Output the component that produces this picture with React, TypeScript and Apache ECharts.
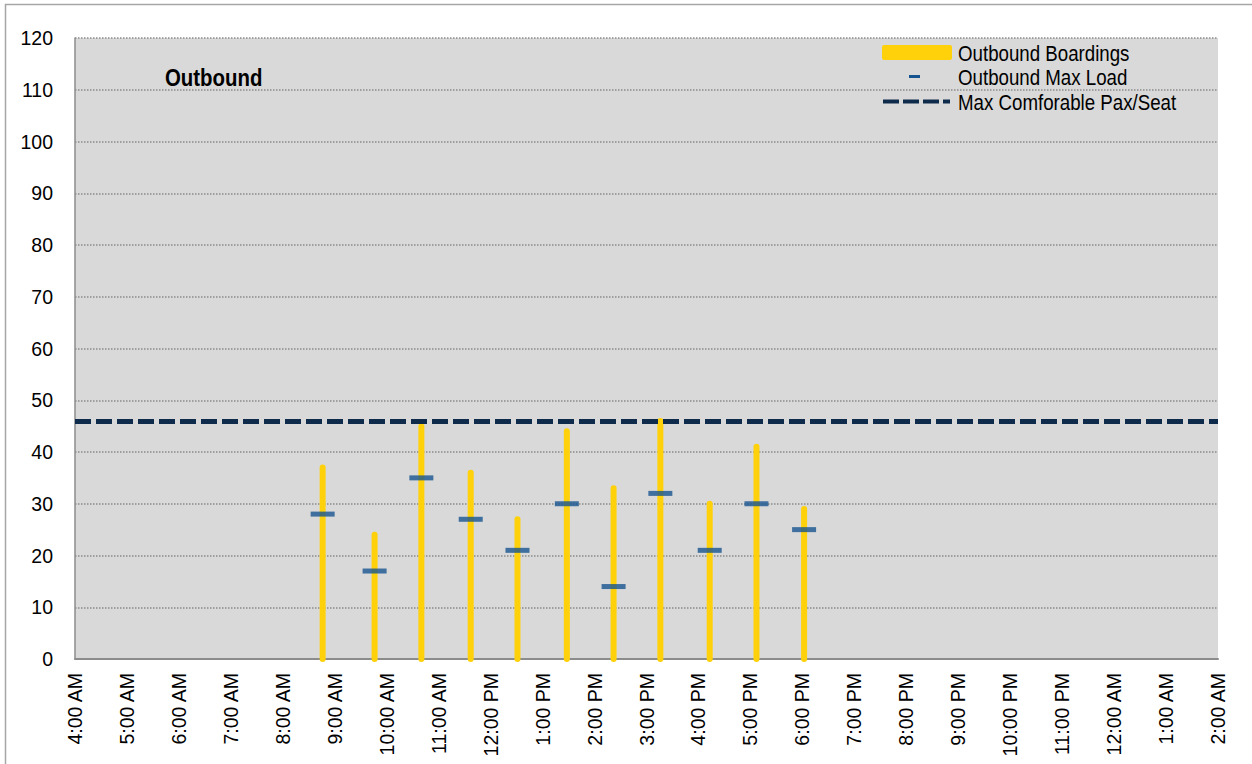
import React, { useEffect, useRef } from "react";
import * as echarts from "echarts";

// Trip start times (hours, 24h clock)
const tripTimes = ["8:46", "9:46", "10:40", "11:37", "12:31", "13:28", "14:22", "15:16", "16:13", "17:07", "18:02"];
const boardings = [37, 24, 45, 36, 27, 44, 33, 46, 30, 41, 29];
const maxLoad = [28, 17, 35, 27, 21, 30, 14, 32, 21, 30, 25];
const maxComfortable = 46;

const hourLabels = [
  "4:00 AM", "5:00 AM", "6:00 AM", "7:00 AM", "8:00 AM", "9:00 AM", "10:00 AM", "11:00 AM",
  "12:00 PM", "1:00 PM", "2:00 PM", "3:00 PM", "4:00 PM", "5:00 PM", "6:00 PM", "7:00 PM",
  "8:00 PM", "9:00 PM", "10:00 PM", "11:00 PM", "12:00 AM", "1:00 AM", "2:00 AM",
];
const xStartHour = 4;
const yTicks = [0, 120, 10];

const FONT = '"Liberation Sans", Arial, sans-serif';
const YELLOW = "#FFD10A";
const BLUE = "#165490";
const NAVY = "#0F2B4B";
const NARROW = 0.85;

function toHours(t: string): number {
  const [h, m] = t.split(":").map(Number);
  return h + m / 60;
}

export default function App() {
  const ref = useRef<HTMLDivElement>(null);
  useEffect(() => {
    if (!ref.current) return;
    const chart = echarts.init(ref.current, undefined, { renderer: "svg" });
    const xs = tripTimes.map(toHours);
    const boardData = xs.map((x, i) => [x, boardings[i]]);
    const loadData = xs.map((x, i) => [x, maxLoad[i]]);

    const legendText = (text: string, y: number) => ({
      type: "text",
      x: 958,
      y,
      scaleX: NARROW,
      style: { text, font: `22px ${FONT}`, fill: "#000", verticalAlign: "middle" },
      z: 10,
    });

    chart.setOption({
      animation: false,
      backgroundColor: "#ffffff",
      grid: {
        left: 75,
        right: 34,
        top: 38,
        bottom: 105,
        containLabel: false,
        outerBoundsMode: "none",
        show: true,
        backgroundColor: "#D9D9D9",
        borderWidth: 0,
      },
      xAxis: {
        type: "value",
        min: xStartHour,
        max: xStartHour + hourLabels.length - 1,
        interval: 1,
        axisLine: { show: true, lineStyle: { color: "#8C8C8C", width: 2 } },
        axisTick: { show: false },
        splitLine: { show: false },
        axisLabel: {
          rotate: 90,
          margin: 14,
          fontSize: 19.5,
          fontFamily: FONT,
          color: "#000",
          showMinLabel: true,
          showMaxLabel: true,
          hideOverlap: false,
          formatter: (v: number) => hourLabels[Math.round(v - xStartHour)] ?? "",
        },
      },
      yAxis: {
        type: "value",
        min: yTicks[0],
        max: yTicks[1],
        interval: yTicks[2],
        axisLine: { show: true, lineStyle: { color: "#8C8C8C", width: 1.5 } },
        axisTick: { show: false },
        splitLine: { show: true, lineStyle: { color: "#8A8A8A", width: 1.5, type: [1.5, 1.5] } },
        axisLabel: { margin: 22, fontSize: 19.5, fontFamily: FONT, color: "#000" },
      },
      series: [
        {
          name: "Outbound Boardings",
          type: "custom",
          z: 3,
          data: boardData,
          renderItem: (params: any, api: any) => {
            const x = api.value(0);
            const v = api.value(1);
            const p0 = api.coord([x, 0]);
            const p1 = api.coord([x, v]);
            return {
              type: "line",
              shape: { x1: p0[0], y1: p0[1], x2: p1[0], y2: p1[1] },
              style: { stroke: YELLOW, lineWidth: 6, lineCap: "round" },
            };
          },
        },
        {
          name: "Outbound Max Load",
          type: "scatter",
          z: 4,
          symbol: "rect",
          symbolSize: [24, 5],
          itemStyle: { color: BLUE },
          data: loadData,
        },
        {
          name: "Max Comforable Pax/Seat",
          type: "line",
          z: 5,
          data: [],
          markLine: {
            silent: true,
            symbol: "none",
            label: { show: false },
            lineStyle: { color: NAVY, width: 5, type: [16, 5] },
            data: [{ yAxis: maxComfortable }],
          },
        },
      ],
      graphic: [
        {
          type: "rect",
          shape: { x: 5.5, y: 4.5, width: 2000, height: 2000 },
          style: { fill: "none", stroke: "#A6A6A6", lineWidth: 1.5 },
          silent: true,
          z: -1,
        },
        {
          type: "text",
          x: 165,
          y: 78,
          scaleX: NARROW,
          style: { text: "Outbound", font: `bold 24px ${FONT}`, fill: "#000", verticalAlign: "middle" },
          z: 10,
        },
        {
          type: "rect",
          shape: { x: 882, y: 45, width: 70, height: 15, r: 2 },
          style: { fill: YELLOW },
          z: 10,
        },
        {
          type: "rect",
          shape: { x: 909, y: 75, width: 11, height: 3 },
          style: { fill: BLUE },
          z: 10,
        },
        {
          type: "line",
          shape: { x1: 883, y1: 101.5, x2: 950, y2: 101.5 },
          style: { stroke: NAVY, lineWidth: 4, lineDash: [16, 4] },
          z: 10,
        },
        legendText("Outbound Boardings", 53),
        legendText("Outbound Max Load", 77),
        legendText("Max Comforable Pax/Seat", 102),
      ],
    });
    return () => chart.dispose();
  }, []);

  return (
    <div
      ref={ref}
      style={{ position: "fixed", left: 0, top: 0, width: 1252, height: 764 }}
    />
  );
}
